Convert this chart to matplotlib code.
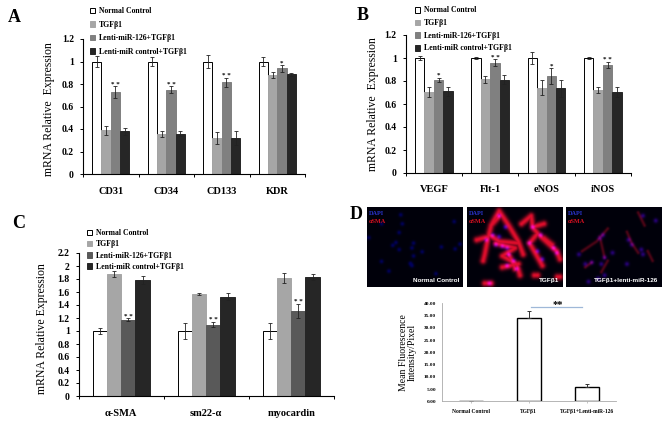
import numpy as np
import matplotlib
matplotlib.use("Agg")
import matplotlib.pyplot as plt

plt.rcParams['font.family'] = ['Liberation Serif', 'DejaVu Serif']
plt.rcParams['font.weight'] = 'bold'

W = 669; H = 424

series = ["Normal Control", "TGFβ1", "Lenti-miR-126+TGFβ1", "Lenti-miR control+TGFβ1"]

# panel A
cats_a = ["CD31", "CD34", "CD133", "KDR"]
vals_a = [[1, .39, .73, .38], [1, .355, .75, .36], [1, .32, .815, .32], [1, .88, .94, .885]]
errs_a = [[.05, .04, .05, .03], [.04, .03, .03, .02], [.06, .05, .04, .065], [.04, .03, .03, .015]]
stars_a = ["* *", "* *", "* *", "*"]

# panel B
cats_b = ["VEGF", "Flt-1", "eNOS", "iNOS"]
vals_b = [[1, .705, .81, .71], [1, .815, .96, .81], [1, .74, .84, .735], [1, .72, .94, .705]]
errs_b = [[.015, .04, .02, .04], [.005, .03, .03, .04], [.055, .065, .07, .07], [.005, .025, .025, .04]]
stars_b = ["*", "* *", "*", "* *"]

# panel C
cats_c = ["α-SMA", "sm22-α", "myocardin"]
vals_c = [[1, 1.88, 1.175, 1.78], [1, 1.57, 1.1, 1.53], [1, 1.82, 1.31, 1.83]]
errs_c = [[.05, .05, .02, .06], [.125, .015, .045, .06], [.12, .08, .11, .05]]
stars_c = ["* *", "* *", "* *"]

# panel D bars
cats_d = ["Normal Control", "TGFβ1", "TGFβ1+Lenti-miR-126"]
vals_d = [0.2, 33.8, 5.7]
errs_d = [0, 3.0, 1.3]
ticks_d = [0, 5, 10, 15, 20, 25, 30, 35, 40]

# panel D micrographs, positions read on a 300x252 view of each image
nuclei_1 = [(105,27),(110,55),(45,55),(272,48),(100,82),(5,98),(90,113),(80,122),(100,135),(145,115),(140,130),
            (172,142),(145,155),(232,127),(275,133),(290,118),(45,172),(135,178),(140,185),(68,202),(215,210)]
nuclei_2 = [(100,30),(120,65),(80,90),(100,95),(125,130),(110,125),(90,120),(130,150),(145,170),(155,195),(125,185),
            (205,65),(230,90),(195,115),(220,140),(235,165),(270,130),(280,145),(60,105),(70,240)]
arms_2 = [[(100,15),(75,60),(65,100),(55,150),(50,170)],[(75,60),(100,32)],[(100,15),(130,60),(160,110),(175,150)],
          [(65,95),(30,105)],[(70,90),(100,110),(160,115)],[(90,115),(150,130),(110,155),(155,180),(165,215)],
          [(110,190),(160,180)],[(130,150),(150,195)],[(170,55),(200,30),(205,65),(240,55)],[(205,65),(220,85)],
          [(220,85),(195,115),(235,185)],[(225,90),(280,140),(290,165)],[(240,100),(265,120)],[(55,240),(75,240)],
          [(210,215),(220,215)],[(282,220),(290,220)]]
nuclei_3 = [(105,100),(115,90),(195,105),(205,120),(145,145),(120,160),(60,180),(80,175),(110,180),(40,150),
            (240,30),(280,45),(235,135),(240,150),(100,225),(190,180),(70,235),(120,215)]
arms_3 = [[(50,140),(95,110),(130,70)],[(190,80),(205,115),(225,145)],[(60,190),(80,175)],[(225,20),(245,60)],
          [(130,170),(110,205)],[(105,95),(120,160)],[(270,170),(255,140)]]
panel_names = ["Normal Control", "TGFβ1", "TGFβ1+lenti-miR-126"]

colors = ["white", "#a6a6a6", "#808080", "#262626"]
colors_c = ["white", "#a6a6a6", "#595959", "#262626"]


def px_axes(l, t, r, b):
    return fig.add_axes([l/W, 1-b/H, (r-l)/W, (b-t)/H])


def group_bars(ax, cats, vals, errs, stars, cols, ymax, step, ylabel, width=0.168):
    vals = np.array(vals); errs = np.array(errs)
    x = np.arange(len(cats))
    for s in range(4):
        ax.bar(x+(s-1.5)*width, vals[:, s], width, color=cols[s], edgecolor="black" if s == 0 else cols[s],
               linewidth=0.7, label=series[s], yerr=errs[:, s],
               error_kw=dict(ecolor="#222222", elinewidth=0.6, capsize=1.6, capthick=0.6))
    for i, st in enumerate(stars):
        ax.text(x[i]+0.5*width, vals[i, 2]+errs[i, 2]+ymax*0.015, st, ha="center", va="center", fontsize=5)
    ax.set_xlim(-0.5, len(cats)-0.5)
    ax.set_ylim(0, ymax)
    ax.set_xticks(np.arange(len(cats)+1)-0.5)
    ax.set_xticklabels([])
    ax.set_xticks(x, minor=True)
    ax.set_xticklabels(cats, minor=True, fontsize=7.5)
    ax.tick_params(axis="x", which="minor", length=0, pad=9)
    ax.tick_params(axis="x", which="major", length=2, width=0.7)
    ax.set_yticks(np.arange(0, ymax+0.001, step))
    ax.set_yticklabels(["%g" % round(v, 1) for v in np.arange(0, ymax+0.001, step)], fontsize=7)
    ax.tick_params(axis="y", length=2.5, width=0.7, pad=4)
    ax.set_ylabel(ylabel, fontsize=8.5)
    for sp in ["top", "right"]:
        ax.spines[sp].set_visible(False)


def legend_at(ax, xp, yp, spacing):
    ax.legend(loc="upper left", bbox_to_anchor=(xp/W, 1-yp/H), bbox_transform=fig.transFigure, frameon=False,
              fontsize=5.6, labelspacing=spacing, handlelength=0.7, handleheight=0.7, handletextpad=0.4,
              borderpad=0, borderaxespad=0)


def glow(points, segs, sigma_n, sigma_a):
    # small blurred picture built from the nuclei and the cell arms
    yy, xx = np.mgrid[0:252, 0:300]
    blue = np.zeros(xx.shape); red = np.zeros(xx.shape)
    for px, py in points:
        blue += np.exp(-((xx-px)**2+(yy-py)**2)/(2*sigma_n**2))
    for arm in segs:
        for (x0, y0), (x1, y1) in zip(arm[:-1], arm[1:]):
            dx = x1-x0; dy = y1-y0
            t = np.clip(((xx-x0)*dx+(yy-y0)*dy)/(dx*dx+dy*dy), 0, 1)
            d2 = (xx-x0-t*dx)**2+(yy-y0-t*dy)**2
            red = np.maximum(red, np.exp(-d2/(2*sigma_a**2)))
    return np.clip(blue, 0, 1), red


fig = plt.figure(figsize=(W/100, H/100), dpi=100)

ax = px_axes(83, 39, 305, 174)
group_bars(ax, cats_a, vals_a, errs_a, stars_a, colors, 1.2, 0.2, "mRNA Relative  Expression")
ax.yaxis.set_label_coords(-0.125, 0.48)
legend_at(ax, 90, 7, 0.72)
fig.text(8/W, 1-17/H, "A", fontsize=13, va="center")

ax = px_axes(405.7, 35, 631, 173)
group_bars(ax, cats_b, vals_b, errs_b, stars_b, colors, 1.2, 0.2, "mRNA Relative  Expression")
ax.yaxis.set_label_coords(-0.12, 0.5)
legend_at(ax, 415, 6.5, 0.6)
fig.text(357/W, 1-16/H, "B", fontsize=13, va="center")

ax = px_axes(78.7, 253, 333.7, 396)
group_bars(ax, cats_c, vals_c, errs_c, stars_c, colors_c, 2.2, 0.2, "mRNA Relative Expression")
ax.yaxis.set_label_coords(-0.12, 0.47)
legend_at(ax, 87, 229, 0.42)
fig.text(12/W, 1-223/H, "C", fontsize=13, va="center")

# micrographs
boxes = [(367, 207, 463, 287), (467, 207, 563, 287), (566, 207, 662, 287)]
nuclei = [nuclei_1, nuclei_2, nuclei_3]
arms = [[], arms_2, arms_3]
blue_level = [0.32, 0.6, 0.42]
red_level = [0.0, 0.88, 0.3]
arm_sigma = [5, 7, 3.5]
nuc_sigma = [4.5, 5, 5]
for k, b in enumerate(boxes):
    ax = px_axes(*b)
    blue, red = glow(nuclei[k], arms[k], nuc_sigma[k], arm_sigma[k])
    img = np.zeros(blue.shape+(3,))
    img[..., 0] = red*red_level[k]+blue*0.15*(k > 0)
    img[..., 1] = red*red_level[k]*0.06
    img[..., 2] = 0.04+blue*blue_level[k]+red*red_level[k]*0.15
    ax.imshow(np.clip(img, 0, 1), extent=(0, 300, 252, 0), aspect="auto", interpolation="bilinear")
    ax.set_xticks([]); ax.set_yticks([])
    for sp in ax.spines.values():
        sp.set_visible(False)
    ax.text(6, 22, "DAPI", color="#2a35d0", fontsize=4.5, va="center")
    ax.text(6, 46, "αSMA", color="#d81020", fontsize=4.5, va="center")
    ax.text(288, 232, panel_names[k], color="white", fontsize=4.6, ha="right", va="center",
            family=["Liberation Sans", "DejaVu Sans"])
fig.text(350/W, 1-214/H, "D", fontsize=13, va="center")

# bar chart under micrographs
ax = px_axes(441.7, 303.3, 616, 401.3)
x = np.arange(3)
ax.bar(x, vals_d, 0.41, color="white", edgecolor="black", linewidth=1.0, yerr=[[0]*3, errs_d],
       error_kw=dict(ecolor="#333333", elinewidth=0.7, capsize=1.5, capthick=0.7))
ax.set_xlim(-0.5, 2.5)
ax.set_ylim(0, 40)
ax.set_yticks(ticks_d)
ax.set_yticklabels(["%.2f" % t for t in ticks_d], fontsize=3.8)
ax.set_xticks(x)
ax.set_xticklabels(cats_d, fontsize=4)
ax.tick_params(axis="x", length=1.5, width=0.4, pad=4, color="#999999")
ax.tick_params(axis="y", length=0, pad=4)
ax.set_ylabel("Mean Fluorescence\nIntensity/Pixel", fontsize=7, fontweight="normal", linespacing=1.0)
ax.yaxis.set_label_coords(-0.142, 0.5)
for sp in ["top", "right"]:
    ax.spines[sp].set_visible(False)
for sp in ["left", "bottom"]:
    ax.spines[sp].set_color("#aaaaaa")
    ax.spines[sp].set_linewidth(0.6)
ax.plot([1.03, 1.91], [38.6, 38.6], color="#9fb8d8", lw=0.9, clip_on=False)
ax.text(1.5, 39.3, "**", ha="center", va="center", fontsize=7.5, clip_on=False)

fig.savefig("out.png", dpi=100)
